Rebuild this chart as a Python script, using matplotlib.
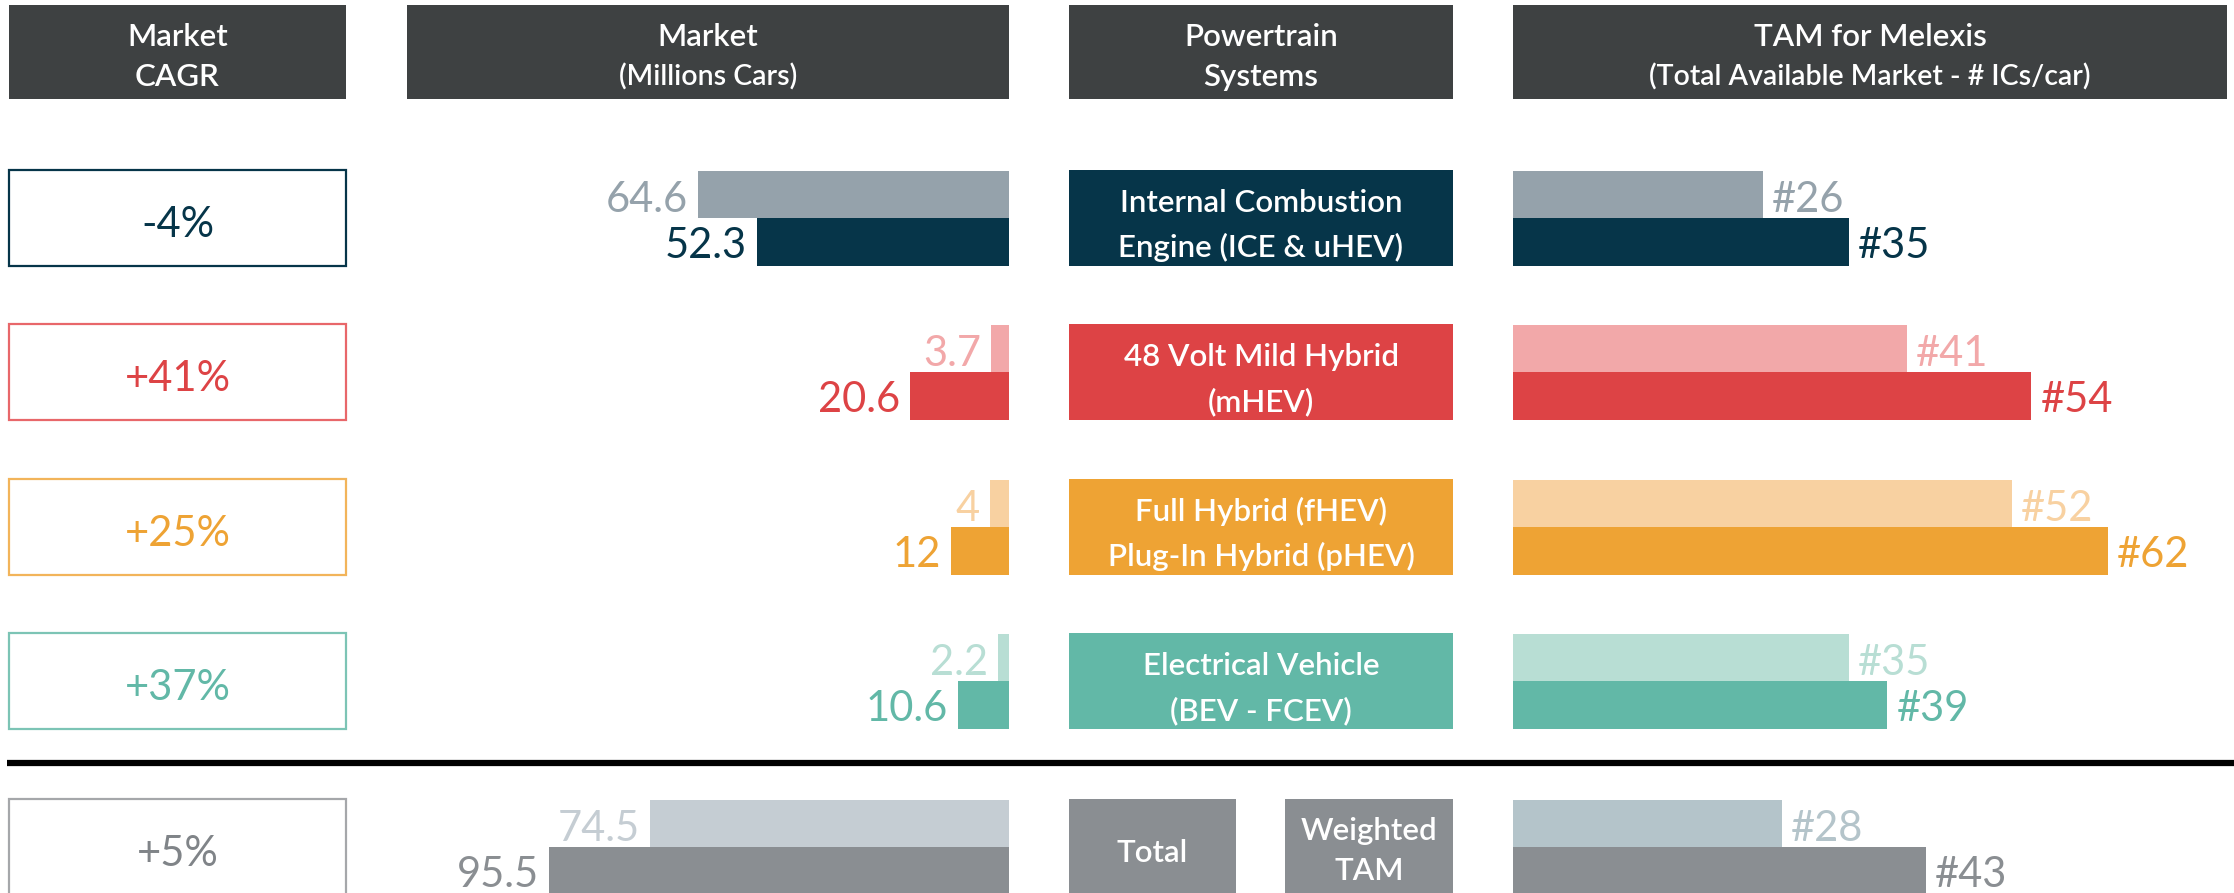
import matplotlib.pyplot as plt
from matplotlib.patches import Rectangle

plt.rcParams['font.family'] = ['Lato', 'DejaVu Sans']

# === Data ===
powertrains = [
    "Internal Combustion\nEngine (ICE & uHEV)",
    "48 Volt Mild Hybrid\n(mHEV)",
    "Full Hybrid (fHEV)\nPlug-In Hybrid (pHEV)",
    "Electrical Vehicle\n(BEV - FCEV)",
]
cagr = ["-4%", "+41%", "+25%", "+37%", "+5%"]
market_before = [64.6, 3.7, 4, 2.2, 74.5]
market_after = [52.3, 20.6, 12, 10.6, 95.5]
market_before_txt = ["64.6", "3.7", "4", "2.2", "74.5"]
market_after_txt = ["52.3", "20.6", "12", "10.6", "95.5"]
tam_before = [26, 41, 52, 35, 28]
tam_after = [35, 54, 62, 39, 43]

# === Style ===
HEADER_C = "#3e4142"
dark_c = ["#063549", "#dd4345", "#eea334", "#62b8a7", "#8a8e92"]
light_market_c = ["#95a2ab", "#f2a8a9", "#f8d1a1", "#b8ded4", "#c5cdd3"]
light_tam_c = ["#95a2ab", "#f2a8a9", "#f8d1a1", "#b8ded4", "#b4c4ca"]
cagr_edge_c = ["#063549", "#e8676a", "#f2b45a", "#7cc4b5", "#a5a7aa"]
cagr_text_c = ["#063549", "#dd4345", "#eea334", "#62b8a7", "#808488"]

W, H = 2234, 893
ROW_TOP = [170, 324, 479, 633, 799]
ROW_H = 96
COLS = [(9, 346), (407, 1009), (1069, 1453), (1513, 2227)]
MKT_PX = 4.82   # pixels per million cars
TAM_PX = 9.6    # pixels per IC
FS_HEAD, FS_SUB, FS_BOX, FS_VAL = 22.5, 20.5, 22.5, 30
WHITE_W = "semibold"

fig = plt.figure(figsize=(W / 100, H / 100), dpi=100)

# === background layer (pixel coords) ===
bg = fig.add_axes([0, 0, 1, 1])
bg.set_xlim(0, W)
bg.set_ylim(H, 0)
bg.axis("off")

def box(x0, x1, y0, h, fc, ec="none", lw=0):
    bg.add_patch(Rectangle((x0, y0), x1 - x0, h, facecolor=fc, edgecolor=ec, lw=lw))

def white_text(x, y, s, fs=FS_BOX):
    bg.text(x, y, s, color="white", fontsize=fs, fontweight=WHITE_W, ha="center", va="baseline")

# headers
headers = [("Market", "CAGR"), ("Market", "(Millions Cars)"),
           ("Powertrain", "Systems"), ("TAM for Melexis", "(Total Available Market - # ICs/car)")]
for (x0, x1), (l1, l2) in zip(COLS, headers):
    box(x0, x1, 5, 94, HEADER_C)
    cx = (x0 + x1) / 2
    white_text(cx, 46, l1, FS_HEAD)
    white_text(cx, 86, l2, FS_SUB if l2.startswith("(") else FS_HEAD)

# CAGR boxes
for i, top in enumerate(ROW_TOP):
    box(COLS[0][0], COLS[0][1], top, ROW_H, "white", cagr_edge_c[i], 1.6)
    bg.text(sum(COLS[0]) / 2, top + 67, cagr[i], color=cagr_text_c[i], fontsize=FS_VAL,
            ha="center", va="baseline")

# powertrain boxes
for i, name in enumerate(powertrains):
    top = ROW_TOP[i]
    box(COLS[2][0], COLS[2][1], top, ROW_H, dark_c[i])
    l1, l2 = name.split("\n")
    cx = sum(COLS[2]) / 2
    white_text(cx, top + 42, l1)
    white_text(cx, top + 87, l2)

top = ROW_TOP[4]
box(1069, 1236, top, ROW_H, dark_c[4])
box(1285, 1453, top, ROW_H, dark_c[4])
white_text((1069 + 1236) / 2, top + 63, "Total")
white_text((1285 + 1453) / 2, top + 41, "Weighted")
white_text((1285 + 1453) / 2, top + 81, "TAM")

# separator
bg.plot([7, W], [763, 763], color="black", lw=4.5, solid_capstyle="butt")

# === Market bars (grow leftwards from right edge) ===
mx0, mx1 = COLS[1]
ax_m = fig.add_axes([mx0 / W, 0, (mx1 - mx0) / W, 1])
ax_m.set_xlim((mx1 - mx0) / MKT_PX, 0)
ax_m.set_ylim(H, 0)
ax_m.axis("off")

yb = [t + 24.5 for t in ROW_TOP]
ya = [t + 72 for t in ROW_TOP]
ax_m.barh(yb, market_before, height=47, color=light_market_c)
ax_m.barh(ya, market_after, height=48, color=dark_c)
pad_m = 10 / MKT_PX
for i in range(len(ROW_TOP)):
    ax_m.text(market_before[i] + pad_m, ROW_TOP[i] + 42, market_before_txt[i], color=light_market_c[i],
              fontsize=FS_VAL, ha="right", va="baseline", clip_on=False)
    ax_m.text(market_after[i] + pad_m, ROW_TOP[i] + 88, market_after_txt[i], color=dark_c[i],
              fontsize=FS_VAL, ha="right", va="baseline", clip_on=False)

# === TAM bars ===
tx0, tx1 = COLS[3]
ax_t = fig.add_axes([tx0 / W, 0, (tx1 - tx0) / W, 1])
ax_t.set_xlim(0, (tx1 - tx0) / TAM_PX)
ax_t.set_ylim(H, 0)
ax_t.axis("off")

ax_t.barh(yb, tam_before, height=47, color=light_tam_c)
ax_t.barh(ya, tam_after, height=48, color=dark_c)
pad_t = 9 / TAM_PX
for i in range(len(ROW_TOP)):
    ax_t.text(tam_before[i] + pad_t, ROW_TOP[i] + 42, f"#{tam_before[i]}", color=light_tam_c[i],
              fontsize=FS_VAL, ha="left", va="baseline", clip_on=False)
    ax_t.text(tam_after[i] + pad_t, ROW_TOP[i] + 88, f"#{tam_after[i]}", color=dark_c[i],
              fontsize=FS_VAL, ha="left", va="baseline", clip_on=False)

fig.savefig("out.png", dpi=100, facecolor="white")
